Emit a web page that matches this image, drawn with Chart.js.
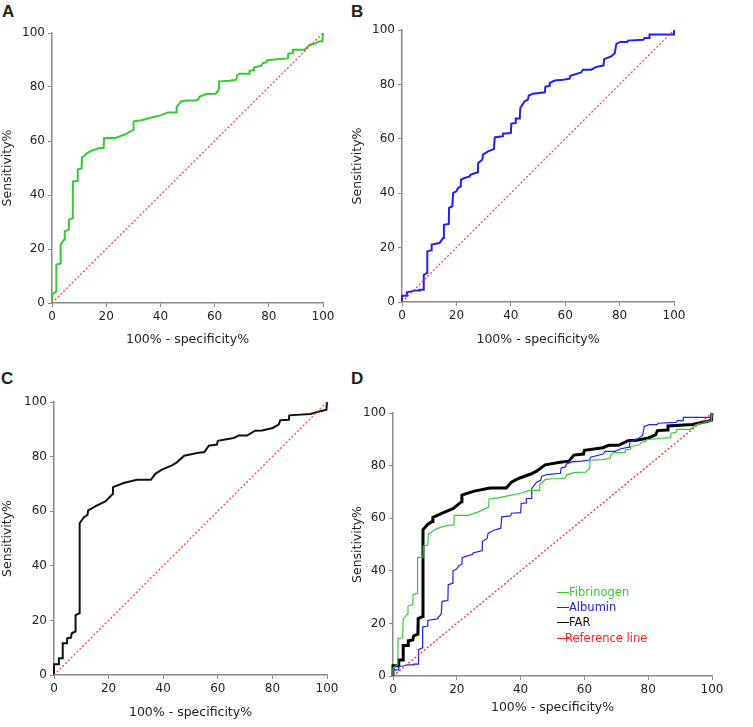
<!DOCTYPE html>
<html>
<head>
<meta charset="utf-8">
<script src="https://cdn.jsdelivr.net/npm/chart.js@4"></script>
<style>
  body { margin: 0; background: #fff; width: 753px; height: 727px; position: relative; overflow: hidden; font-family: "DejaVu Sans", sans-serif; }
  canvas { position: absolute; }
  .lbl { position: absolute; font: bold 17px "Liberation Sans", Arial, sans-serif; color: #231f20; }
  .leg { position: absolute; left: 557px; font-size: 11.5px; line-height: 14px; white-space: nowrap; }
  .leg span.ln { display: inline-block; width: 12px; height: 1.5px; vertical-align: middle; margin-right: 0; }
</style>
</head>
<body>
<div class="lbl" style="left:2px;top:2px">A</div>
<div class="lbl" style="left:351px;top:2px">B</div>
<div class="lbl" style="left:1px;top:369px">C</div>
<div class="lbl" style="left:351px;top:369px">D</div>

<canvas id="chartA" style="left:0;top:0"></canvas>
<canvas id="chartB" style="left:350px;top:0"></canvas>
<canvas id="chartC" style="left:0;top:340px"></canvas>
<canvas id="chartD" style="left:350px;top:340px"></canvas>

<div class="leg" style="top:585px;color:#33cc33"><span class="ln" style="background:#33cc33"></span>Fibrinogen</div>
<div class="leg" style="top:600px;color:#2020ee"><span class="ln" style="background:#2020ee"></span>Albumin</div>
<div class="leg" style="top:615px;color:#111"><span class="ln" style="background:#111"></span>FAR</div>
<div class="leg" style="top:631px;color:#ff2020"><span class="ln" style="background:#ff2020;margin-right:-4px"></span>Reference line</div>

<script>
// ROC points (100% - specificity%, sensitivity%)
const fibrinogenFpr = [0, 0, 1.5, 1.6, 3.0, 3.2, 4.5, 4.7, 6.2, 6.3, 7.6, 7.7, 9.4, 9.5, 10.9, 11.1, 12.0, 12.9, 15, 17.6, 19.1, 19.2, 23.5, 27, 30, 30.1, 33, 36, 40, 42.8, 45.9, 46.0, 47.7, 50, 52.6, 53.9, 54.5, 57, 60.4, 61.6, 61.7, 65.6, 68, 68.3, 69.2, 72.7, 72.9, 74.4, 74.5, 77.2, 77.9, 79.1, 79.5, 84, 87, 87.2, 88.7, 88.9, 93.2, 95, 96.9, 98.2, 99.8, 100];
const fibrinogenSens = [0, 3.1, 4.3, 14.2, 14.6, 21.6, 23.5, 26.5, 27.2, 30.9, 31.4, 45, 45.2, 49.4, 49.8, 54, 54.6, 55.5, 56.6, 57.4, 57.4, 61.1, 61.1, 62.5, 64.2, 67.3, 67.7, 68.5, 69.5, 70.6, 70.6, 72.6, 74.7, 75, 75, 75.3, 76.5, 77.4, 77.5, 79, 82.1, 82.3, 82.7, 84.2, 84.9, 84.9, 86, 86.2, 87.2, 87.9, 88.9, 89.1, 89.9, 90.4, 90.6, 92.3, 92.6, 93.8, 93.8, 95.6, 96, 96.8, 97, 100];

const albuminFpr = [0, 0, 1.8, 1.8, 3.4, 4.7, 6.3, 6.5, 8.0, 8.0, 9.2, 9.3, 10.8, 10.9, 13.8, 15.1, 15.4, 17.2, 17.3, 18.5, 18.8, 20.0, 20.6, 21.6, 21.7, 23.0, 24.9, 25.1, 27.9, 28.0, 29.5, 29.8, 31.6, 33.8, 34.1, 36.9, 37.1, 40.0, 40.2, 41.7, 41.8, 43.3, 43.5, 45.1, 46.3, 46.6, 48.2, 52.5, 52.7, 54.1, 54.3, 56.1, 59.2, 61.6, 61.9, 65.9, 66.5, 69.6, 71.4, 74.1, 74.3, 76.9, 78.2, 78.8, 80.3, 82.8, 83.1, 88.7, 89.2, 91.0, 91.0, 100, 100];
const albuminSens = [0, 2.3, 2.3, 3.6, 3.9, 4.2, 4.2, 4.5, 4.5, 10.0, 10.7, 18.6, 19.0, 21.1, 21.7, 23.5, 28.4, 28.7, 34.6, 35.2, 40.1, 40.7, 41.9, 42.5, 45.0, 45.6, 46.2, 46.8, 47.7, 51.1, 52.3, 54.2, 55.4, 56.2, 60.5, 60.9, 61.9, 62.1, 65.6, 65.8, 67.5, 67.5, 71.3, 73.8, 74.4, 75.9, 76.6, 77.1, 79.1, 79.5, 80.5, 81.4, 81.7, 82.1, 83.2, 84.4, 85.4, 85.4, 86.4, 87.0, 89.3, 90.3, 91.5, 94.9, 95.6, 95.6, 96.1, 96.4, 97.1, 97.1, 98.3, 98.3, 100];

const farFpr = [0, 0, 1.8, 1.8, 3.2, 3.2, 4.8, 4.8, 6.2, 6.5, 7.8, 7.9, 9.3, 9.4, 10.9, 12.3, 12.5, 15.8, 18.8, 21.5, 21.6, 25.5, 30.4, 35.5, 37.1, 39.5, 43.2, 45.0, 47.7, 52.4, 55.1, 56.7, 59.7, 60.0, 65.8, 67.6, 70.7, 73.7, 76.2, 80.1, 82.3, 82.9, 86.0, 86.2, 93.9, 97.5, 99.8, 100];
const farSens = [0, 3.9, 3.9, 6.1, 6.1, 11.6, 11.6, 13.4, 13.7, 15.3, 15.9, 21.9, 22.6, 55.6, 57.7, 58.7, 60.3, 62.1, 63.6, 66.3, 68.8, 70.3, 71.5, 71.5, 73.7, 75.2, 76.8, 77.9, 80.3, 81.3, 81.7, 84.0, 84.4, 85.8, 86.8, 87.7, 87.7, 89.5, 89.6, 90.5, 91.7, 93.3, 93.5, 95.1, 95.6, 96.6, 97.2, 100];

const refX = [0, 100];
const refY = [0, 100];

const xTitle = '100% - specificity%';
const yTitle = 'Sensitivity%';

function pts(xs, ys) {
    return xs.map((x, i) => ({ x: x, y: ys[i] }));
}

function curve(xs, ys, color, width) {
    return { data: pts(xs, ys), borderColor: color, borderWidth: width, pointRadius: 0, tension: 0, fill: false, clip: 4 };
}

function refLine(color) {
    return { data: pts(refX, refY), borderColor: color, borderWidth: 1.3, borderDash: [2, 2], pointRadius: 0, fill: false, clip: 4 };
}

function makeChart(id, w, h, g, datasets) {
    const cv = document.getElementById(id);
    cv.width = w; cv.height = h;
    cv.style.width = w + 'px'; cv.style.height = h + 'px';
    const axisCol = '#8a8a8a';
    return new Chart(cv.getContext('2d'), {
        type: 'line',
        data: { datasets: datasets },
        options: {
            responsive: false,
            animation: false,
            layout: { padding: { top: g.top, right: g.right, left: 0, bottom: 0 } },
            plugins: { legend: { display: false }, tooltip: { enabled: false } },
            scales: {
                x: {
                    type: 'linear', min: 0, max: 100,
                    ticks: { stepSize: 20, color: '#222', padding: 3, font: { family: 'DejaVu Sans', size: 12 }, maxRotation: 0 },
                    grid: { drawOnChartArea: false, drawTicks: true, tickLength: 4, color: axisCol, lineWidth: 1 },
                    border: { color: axisCol, width: 1.5 },
                    title: { display: true, text: xTitle, color: '#222', font: { family: 'DejaVu Sans', size: 12.5 }, padding: { top: 0, bottom: g.titleBottom } },
                    afterFit: s => { s.height = g.xh; }
                },
                y: {
                    min: 0, max: 100,
                    ticks: { stepSize: 20, color: '#222', padding: 3, font: { family: 'DejaVu Sans', size: 12 } },
                    grid: { drawOnChartArea: false, drawTicks: true, tickLength: 4, color: axisCol, lineWidth: 1 },
                    border: { color: axisCol, width: 1.5 },
                    title: { display: true, text: yTitle, color: '#222', font: { family: 'DejaVu Sans', size: 12.5 }, padding: { top: 0, bottom: 0 } },
                    afterFit: s => { s.width = g.yw; }
                }
            }
        }
    });
}

const green = '#33cc33';
const blue = '#1f1fff';
const refRed = '#ff4545';

makeChart('chartA', 350, 360, { top: 33, right: 27, yw: 52, xh: 57, titleBottom: 12.5 }, [
    refLine(refRed),
    curve(fibrinogenFpr, fibrinogenSens, green, 2)
]);

makeChart('chartB', 350, 360, { top: 30, right: 26, yw: 52, xh: 58, titleBottom: 12.5 }, [
    refLine(refRed),
    curve(albuminFpr, albuminSens, blue, 2)
]);

makeChart('chartC', 350, 387, { top: 62, right: 23, yw: 54, xh: 52, titleBottom: 7 }, [
    refLine(refRed),
    curve(farFpr, farSens, '#111', 2)
]);

makeChart('chartD', 403, 387, { top: 73, right: 41, yw: 43, xh: 51, titleBottom: 11.5 }, [
    refLine('#ff2a2a'),
    curve(fibrinogenFpr, fibrinogenSens, green, 1.2),
    curve(albuminFpr, albuminSens, blue, 1.2),
    curve(farFpr, farSens, '#000', 3)
]);
</script>
</body>
</html>
